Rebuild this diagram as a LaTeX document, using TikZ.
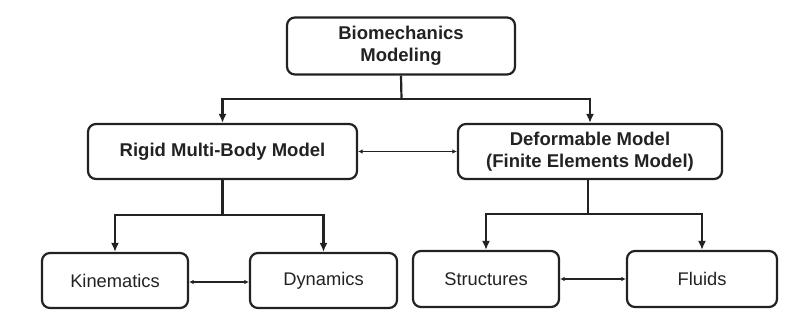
\documentclass[tikz,border=0pt]{standalone}
\usepackage{fontspec}
\setmainfont{Liberation Sans}
\usetikzlibrary{arrows.meta}
\definecolor{ink}{HTML}{222222}
\begin{document}
\begin{tikzpicture}[x=1pt,y=-1pt,
  box/.style={draw=ink,line width=2.2pt,rounded corners=8pt,inner sep=0pt,
    align=center,text=ink,font=\fontsize{18.3}{22}\selectfont},
  headbox/.style={box,font=\fontsize{18.5}{21.5}\selectfont\bfseries},
  link/.style={draw=ink,line width=2.2pt},
  down/.style={link,-{Latex[length=9pt,width=8pt]}},
  both/.style={draw=ink,line width=1.8pt,{Latex[length=4.5pt,width=4.5pt]}-{Latex[length=4.5pt,width=4.5pt]}}]
\useasboundingbox (0,0) rectangle (792,324);
\fill[white] (0,0) rectangle (792,324);

% boxes
\node[headbox,minimum width=228pt,minimum height=57pt] (top) at (401,46) {Biomechanics\\Modeling};
\node[headbox,minimum width=269pt,minimum height=55pt] (rigid) at (222.5,151.5) {Rigid Multi-Body Model};
\node[headbox,minimum width=264pt,minimum height=55pt] (deform) at (590,151.5) {Deformable Model\\(Finite Elements Model)};
\node[box,minimum width=146pt,minimum height=55pt] (kin) at (115,280.5) {Kinematics};
\node[box,minimum width=147pt,minimum height=55pt] (dyn) at (323.5,280.5) {Dynamics};
\node[box,minimum width=146pt,minimum height=56pt] (str) at (486,279) {Structures};
\node[box,minimum width=150pt,minimum height=56pt] (flu) at (702,279) {Fluids};

% branch points
\coordinate (j0) at (401.5,99);
\coordinate (j1) at (222.5,215);
\coordinate (j2) at (588,214);

% tree connectors
\draw[link] (top.south) -- (j0);
\draw[down] (j0) -| (rigid.north);
\draw[down] (j0) -| (deform.north);
\draw[link] (rigid.south) -- (j1);
\draw[down] (j1) -| (kin.north);
\draw[down] (j1) -| (dyn.north);
\draw[link] (deform.south -| j2) -- (j2);
\draw[down] (j2) -| (str.north);
\draw[down] (j2) -| (flu.north);

% two-way links
\draw[both] (rigid.east) -- (deform.west);
\draw[both] (kin.east |- 0,282) -- (dyn.west |- 0,282);
\draw[both] (str.east |- 0,279) -- (flu.west |- 0,279);
\end{tikzpicture}
\end{document}
